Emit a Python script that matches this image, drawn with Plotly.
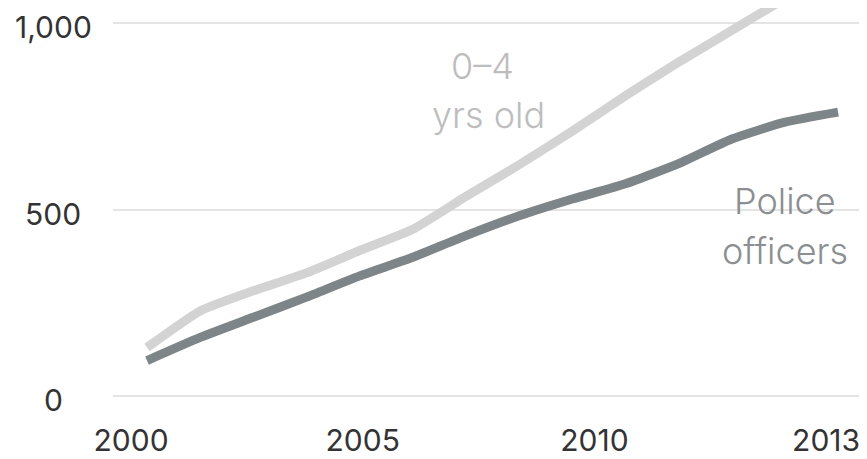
import plotly.graph_objects as go

years = list(range(2000, 2014))
police = [95, 157, 211, 265, 322, 372, 430, 483, 528, 569, 623, 689, 734, 761]
kids = [130, 228, 282, 330, 390, 447, 535, 620, 710, 805, 895, 980, 1065, 1140]

x_tick_labels = ["2000", "2005", "2010", "2013"]
y_ticks = [0, 500, 1000]
y_tick_labels = ["0", "500", "1,000"]

FONT = "Inter"

fig = go.Figure()
fig.add_trace(go.Scatter(x=years, y=kids, mode="lines", name="0–4 yrs old",
                         line=dict(color="#d3d3d3", width=9, shape="spline", smoothing=0.5),
                         hoverinfo="skip"))
fig.add_trace(go.Scatter(x=years, y=police, mode="lines", name="Police officers",
                         line=dict(color="#7e8588", width=9, shape="spline", smoothing=0.5),
                         hoverinfo="skip"))
# invisible helper trace so the evenly spaced label axis is drawn
fig.add_trace(go.Scatter(x=list(range(len(x_tick_labels))), y=[None] * len(x_tick_labels),
                         xaxis="x2", mode="markers", showlegend=False, hoverinfo="skip"))

annotations = []
for v, t in zip(y_ticks, y_tick_labels):
    annotations.append(dict(x=-0.080, xref="paper", y=v, yref="y", text=t, showarrow=False,
                            xanchor="center", yanchor="middle", yshift=-4,
                            font=dict(family=FONT, size=30, color="#333333")))

label_font_light = dict(family=FONT, size=36, color="#bdbdbd", weight=300)
label_font_dark = dict(family=FONT, size=36, color="#8b8f91", weight=300)
annotations += [
    dict(x=2006.32, y=886, xref="x", yref="y", text="0–4", showarrow=False,
         xanchor="center", yanchor="middle", font=label_font_light),
    dict(x=2006.42, y=753, xref="x", yref="y", text="yrs old", showarrow=False,
         xanchor="center", yanchor="middle", font=label_font_light),
    dict(x=2012.0, y=522, xref="x", yref="y", text="Police", showarrow=False,
         xanchor="center", yanchor="middle", font=label_font_dark),
    dict(x=2012.0, y=388, xref="x", yref="y", text="officers", showarrow=False,
         xanchor="center", yanchor="middle", font=label_font_dark),
]

fig.update_layout(
    width=867, height=459,
    margin=dict(l=105, r=13, t=0, b=67),
    paper_bgcolor="white", plot_bgcolor="white",
    showlegend=False,
    xaxis=dict(range=[1999.36, 2013.45], showgrid=False, zeroline=False, showticklabels=False,
               ticks="", showline=False, fixedrange=True),
    xaxis2=dict(range=[-0.078, 3.155], overlaying="x", side="bottom", anchor="y",
                tickvals=list(range(len(x_tick_labels))), ticktext=x_tick_labels,
                showgrid=False, zeroline=False, showline=False, ticks="",
                ticklabelstandoff=20,
                tickfont=dict(family=FONT, size=30, color="#333333")),
    yaxis=dict(range=[-10.7, 1040.2], tickvals=y_ticks, showticklabels=False,
               showgrid=True, gridcolor="#e4e4e4", gridwidth=2, zeroline=False, ticks=""),
    annotations=annotations,
)

fig.write_html("out.html")
